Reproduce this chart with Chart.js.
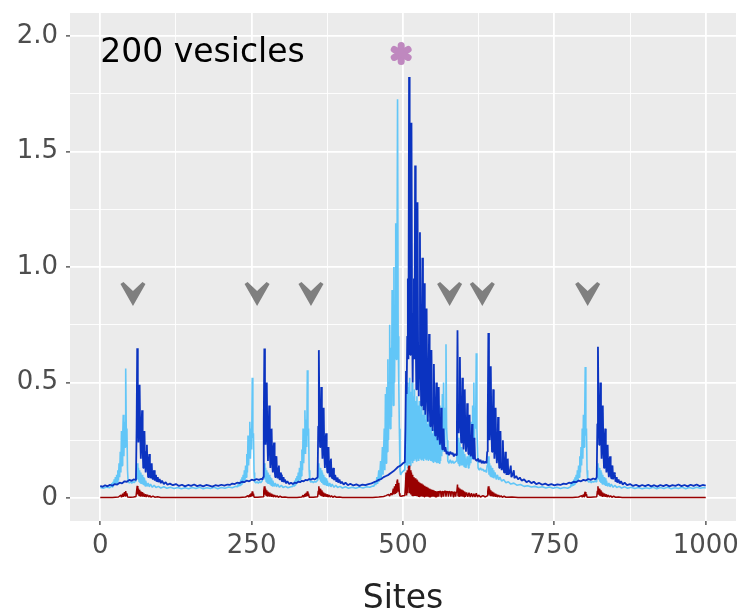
<!DOCTYPE html>
<html>
<head>
<meta charset="utf-8">
<script src="https://cdn.jsdelivr.net/npm/chart.js@4.4.1/dist/chart.umd.min.js"></script>
<style>
  html, body { margin: 0; padding: 0; background: #ffffff; }
  canvas { display: block; }
</style>
</head>
<body>
<canvas id="sitechart" width="749" height="616"></canvas>
<script>
// [site, value] pairs
var lightBlue = [
  [0,0.045],[5,0.042],[10,0.047],[15,0.044],
  [18,0.05],[19,0.065],[20,0.048],[21,0.07],[22,0.055],[23,0.08],[24,0.058],[25,0.09],[26,0.062],[27,0.1],[28,0.068],[29,0.12],[30,0.075],[31,0.15],[32,0.09],[33,0.2],[34,0.11],[35,0.29],[36,0.14],[37,0.26],[38,0.36],[39,0.18],[40,0.33],[41,0.22],[42,0.56],[43,0.28],[44,0.3],[45,0.12],[46,0.07],[48,0.065],[50,0.07],[52,0.064],[54,0.07],[56,0.066],[58,0.072],[59,0.09],
  [60,0.12],[61,0.15],[62,0.08],[63,0.13],[64,0.07],[65,0.12],[66,0.065],[67,0.11],[68,0.06],[69,0.1],[70,0.058],[71,0.09],[72,0.055],[73,0.085],[74,0.052],[75,0.075],[77,0.05],[79,0.065],[81,0.048],[83,0.06],[86,0.046],[89,0.055],[92,0.045],[96,0.05],[100,0.043],[105,0.048],[110,0.042],
  [116,0.046],[122,0.041],[128,0.045],[134,0.04],[140,0.044],[146,0.04],[152,0.045],[158,0.041],[164,0.046],[170,0.04],[176,0.044],[182,0.041],[188,0.046],[194,0.04],[200,0.045],[206,0.042],[212,0.047],[218,0.044],[224,0.05],
  [227,0.048],[228,0.062],[229,0.05],[230,0.07],[231,0.054],[232,0.08],[233,0.058],[234,0.09],[235,0.062],[236,0.1],[237,0.068],[238,0.12],[239,0.075],[240,0.14],[241,0.09],[242,0.19],[243,0.11],[244,0.27],[245,0.14],[246,0.25],[247,0.33],[248,0.17],[249,0.3],[250,0.21],[251,0.52],[252,0.26],[253,0.28],[254,0.11],[255,0.07],[257,0.065],[259,0.07],[261,0.064],[263,0.07],[265,0.066],[267,0.072],[269,0.09],
  [270,0.12],[271,0.15],[272,0.08],[273,0.13],[274,0.07],[275,0.12],[276,0.065],[277,0.11],[278,0.06],[279,0.1],[280,0.058],[281,0.09],[282,0.055],[283,0.085],[284,0.052],[285,0.075],[287,0.05],[289,0.065],[291,0.048],[293,0.06],[296,0.046],[299,0.055],[302,0.045],[306,0.05],[310,0.044],[315,0.048],
  [318,0.05],[319,0.065],[320,0.052],[321,0.075],[322,0.056],[323,0.085],[324,0.06],[325,0.095],[326,0.065],[327,0.11],[328,0.07],[329,0.13],[330,0.08],[331,0.16],[332,0.095],[333,0.21],[334,0.12],[335,0.3],[336,0.15],[337,0.27],[338,0.38],[339,0.19],[340,0.34],[341,0.22],[342,0.553],[343,0.27],[344,0.3],[345,0.12],[346,0.075],[348,0.068],[350,0.072],[352,0.066],[354,0.072],[356,0.068],[358,0.074],[359,0.09],
  [360,0.12],[361,0.15],[362,0.08],[363,0.13],[364,0.07],[365,0.12],[366,0.065],[367,0.11],[368,0.06],[369,0.1],[370,0.058],[371,0.09],[372,0.055],[373,0.085],[374,0.052],[375,0.075],[377,0.05],[379,0.065],[381,0.048],[383,0.06],[386,0.046],[389,0.055],[392,0.045],[396,0.05],[400,0.043],[405,0.048],[410,0.042],
  [416,0.046],[422,0.042],[428,0.047],[434,0.043],[440,0.048],[445,0.046],[450,0.052],
  [452,0.05],[454,0.07],[455,0.055],[457,0.09],[458,0.06],[460,0.12],[461,0.07],[463,0.16],[464,0.08],[466,0.22],[467,0.1],[469,0.3],[470,0.12],[471,0.45],[472,0.15],[473,0.48],[474,0.2],[475,0.6],[476,0.25],[477,0.5],[478,0.75],[479,0.3],[480,0.65],[481,0.35],[482,0.9],[483,0.77],[484,0.4],[485,1.0],[486,0.5],[487,0.8],[488,1.19],[489,0.6],[490,0.9],[491,1.727],[492,0.7],[493,0.5],[494,0.3],[495,0.12],[496,0.1],[498,0.11],[500,0.115],[502,0.12],[503,0.13],
  [504,0.2],[505,0.45],[506,0.14],[507,0.5],[508,0.13],[509,0.48],[510,0.15],[511,0.52],[512,0.14],[513,0.46],[514,0.16],[515,0.5],[516,0.15],[517,0.44],[518,0.16],[519,0.47],[520,0.17],[521,0.42],[522,0.16],[523,0.44],[524,0.17],[525,0.4],[526,0.16],[527,0.42],[528,0.17],[529,0.38],[530,0.165],[531,0.4],[532,0.17],[533,0.36],[534,0.16],[535,0.38],[536,0.17],[537,0.34],[538,0.165],[539,0.36],[540,0.17],[541,0.32],[542,0.16],[543,0.34],[544,0.165],[545,0.3],[546,0.16],[547,0.32],[548,0.16],[549,0.28],[550,0.155],[551,0.3],[552,0.16],[553,0.27],[554,0.155],[555,0.3],[556,0.15],[557,0.35],[558,0.155],[559,0.3],[560,0.15],[561,0.4],[562,0.16],[563,0.35],[564,0.18],[565,0.45],[566,0.2],[567,0.5],[568,0.22],[569,0.39],[570,0.3],[571,0.665],[572,0.3],[573,0.25],[574,0.16],[576,0.15],[578,0.165],[580,0.15],[582,0.16],[584,0.15],[586,0.155],[588,0.16],
  [589,0.2],[590,0.28],[591,0.15],[592,0.26],[593,0.14],[594,0.24],[595,0.145],[596,0.22],[597,0.14],[598,0.21],[599,0.14],[600,0.2],[601,0.135],[602,0.19],[604,0.13],[606,0.18],[608,0.13],[609,0.2],[610,0.14],[611,0.26],[612,0.15],[613,0.33],[614,0.17],[615,0.4],[616,0.2],[617,0.5],[618,0.25],[619,0.39],[620,0.3],[621,0.626],[622,0.3],[623,0.22],[624,0.13],[626,0.12],[628,0.13],[630,0.12],[632,0.125],[634,0.115],[636,0.12],[638,0.11],[639,0.14],
  [640,0.15],[641,0.18],[642,0.1],[643,0.15],[644,0.095],[645,0.14],[646,0.09],[647,0.13],[648,0.088],[649,0.12],[650,0.085],[652,0.11],[654,0.08],[656,0.1],[658,0.078],[660,0.09],[663,0.072],[666,0.08],[670,0.066],[674,0.07],[678,0.06],[683,0.064],[688,0.055],[694,0.058],[700,0.05],[706,0.053],[712,0.047],[718,0.05],[724,0.045],[730,0.048],[736,0.043],[742,0.047],[748,0.042],[754,0.046],[760,0.041],[766,0.045],[772,0.042],[776,0.047],
  [777,0.05],[778,0.064],[779,0.05],[780,0.072],[781,0.055],[782,0.08],[783,0.058],[784,0.09],[785,0.062],[786,0.1],[787,0.068],[788,0.12],[789,0.075],[790,0.14],[791,0.09],[792,0.18],[793,0.11],[794,0.22],[795,0.14],[796,0.3],[797,0.17],[798,0.36],[799,0.22],[800,0.33],[801,0.567],[802,0.27],[803,0.3],[804,0.12],[805,0.075],[807,0.068],[809,0.072],[811,0.066],[813,0.072],[815,0.068],[817,0.074],[819,0.07],[820,0.09],
  [821,0.12],[822,0.15],[823,0.08],[824,0.13],[825,0.07],[826,0.12],[827,0.065],[828,0.11],[829,0.06],[830,0.1],[831,0.058],[832,0.09],[833,0.055],[834,0.085],[835,0.052],[836,0.075],[838,0.05],[840,0.065],[842,0.048],[844,0.06],[847,0.046],[850,0.055],[853,0.045],[857,0.05],[861,0.043],[866,0.048],[871,0.042],
  [877,0.046],[883,0.041],[889,0.045],[895,0.04],[901,0.044],[907,0.041],[913,0.046],[919,0.04],[925,0.045],[931,0.041],[937,0.046],[943,0.04],[949,0.044],[955,0.041],[961,0.046],[967,0.04],[973,0.045],[979,0.041],[985,0.046],[991,0.042],[996,0.045],[1000,0.043]
];

var darkBlue = [
  [0,0.052],[4,0.048],[8,0.055],[12,0.05],[16,0.057],[20,0.053],[24,0.06],[28,0.058],[32,0.066],[36,0.063],[40,0.072],[44,0.07],[48,0.078],[52,0.074],[55,0.08],[58,0.078],[59,0.09],
  [60,0.3],[61,0.648],[62,0.37],[63,0.24],[64,0.33],[65,0.49],[66,0.27],[67,0.17],[68,0.3],[69,0.38],[70,0.21],[71,0.13],[72,0.25],[73,0.29],[74,0.16],[75,0.11],[76,0.2],[77,0.23],[78,0.13],[79,0.09],[80,0.16],[81,0.19],[82,0.1],[83,0.085],[84,0.13],[85,0.15],[86,0.085],[87,0.08],[88,0.11],[89,0.12],[90,0.075],[91,0.09],[92,0.1],[93,0.07],[95,0.09],[96,0.068],[98,0.082],[100,0.064],[102,0.075],[105,0.06],[108,0.068],[111,0.057],[115,0.062],
  [120,0.055],[125,0.06],[130,0.052],[135,0.057],[140,0.05],[145,0.056],[150,0.052],[155,0.058],[160,0.051],[165,0.055],[170,0.05],[175,0.056],[180,0.053],[185,0.049],[190,0.055],[195,0.052],[200,0.057],[205,0.053],[210,0.058],[214,0.056],[218,0.062],[222,0.06],[226,0.066],[230,0.064],[234,0.07],[238,0.068],[242,0.075],[246,0.072],[250,0.079],[254,0.076],[258,0.082],[262,0.078],[266,0.083],[268,0.08],[269,0.09],
  [270,0.32],[271,0.647],[272,0.36],[273,0.23],[274,0.31],[275,0.5],[276,0.26],[277,0.16],[278,0.29],[279,0.4],[280,0.2],[281,0.13],[282,0.26],[283,0.3],[284,0.15],[285,0.11],[286,0.21],[287,0.24],[288,0.12],[289,0.09],[290,0.17],[291,0.18],[292,0.1],[293,0.085],[294,0.13],[295,0.14],[296,0.08],[297,0.08],[298,0.11],[299,0.1],[300,0.07],[302,0.09],[303,0.068],[305,0.08],[307,0.063],[309,0.072],[312,0.06],[315,0.066],[318,0.06],[321,0.066],[324,0.064],[327,0.07],[330,0.068],[333,0.074],[336,0.072],[339,0.078],[342,0.076],[345,0.082],[348,0.079],[351,0.084],[354,0.08],[357,0.085],[359,0.09],
  [360,0.31],[361,0.64],[362,0.35],[363,0.22],[364,0.3],[365,0.48],[366,0.25],[367,0.17],[368,0.3],[369,0.39],[370,0.19],[371,0.13],[372,0.25],[373,0.28],[374,0.15],[375,0.11],[376,0.2],[377,0.22],[378,0.12],[379,0.09],[380,0.16],[381,0.17],[382,0.095],[383,0.085],[384,0.12],[385,0.13],[386,0.08],[387,0.078],[388,0.1],[389,0.1],[390,0.07],[392,0.088],[393,0.066],[395,0.08],[397,0.062],[399,0.07],[402,0.058],[405,0.066],[409,0.055],[413,0.061],
  [418,0.054],[423,0.059],[428,0.052],[433,0.058],[438,0.055],[443,0.06],[448,0.063],[452,0.068],[456,0.072],[460,0.078],[464,0.082],[468,0.09],[472,0.095],[476,0.1],[480,0.108],[484,0.115],[488,0.125],[492,0.135],[496,0.14],[500,0.15],[503,0.155],
  [504,0.3],[505,0.55],[506,0.45],[507,0.7],[508,0.95],[509,0.6],[510,1.823],[511,0.9],[512,0.62],[513,0.85],[514,1.625],[515,0.75],[516,0.5],[517,0.8],[518,0.95],[519,0.6],[520,1.44],[521,0.7],[522,0.47],[523,0.72],[524,1.28],[525,0.62],[526,0.44],[527,0.66],[528,1.15],[529,0.58],[530,0.4],[531,0.6],[532,1.04],[533,0.55],[534,0.38],[535,0.93],[536,0.52],[537,0.36],[538,0.5],[539,0.82],[540,0.47],[541,0.33],[542,0.45],[543,0.71],[544,0.42],[545,0.31],[546,0.4],[547,0.64],[548,0.38],[549,0.29],[550,0.37],[551,0.58],[552,0.35],[553,0.27],[554,0.33],[555,0.5],[556,0.32],[557,0.25],[558,0.3],[559,0.48],[560,0.28],[561,0.23],[562,0.27],[563,0.39],[564,0.25],[565,0.21],[566,0.24],[567,0.3],[568,0.22],[569,0.2],[570,0.22],[572,0.19],[574,0.2],[576,0.185],[578,0.2],[580,0.19],[582,0.195],[584,0.18],[586,0.19],[588,0.185],
  [589,0.3],[590,0.726],[591,0.4],[592,0.28],[593,0.36],[594,0.61],[595,0.33],[596,0.24],[597,0.32],[598,0.52],[599,0.28],[600,0.21],[601,0.29],[602,0.47],[603,0.26],[604,0.2],[605,0.26],[606,0.41],[607,0.24],[608,0.19],[609,0.23],[610,0.36],[611,0.21],[612,0.18],[613,0.2],[614,0.32],[615,0.19],[616,0.17],[617,0.19],[618,0.26],[619,0.17],[620,0.165],[622,0.16],[624,0.17],[626,0.155],[628,0.165],[630,0.15],[632,0.16],[634,0.15],[636,0.158],[638,0.15],[639,0.2],
  [640,0.35],[641,0.714],[642,0.38],[643,0.25],[644,0.33],[645,0.57],[646,0.3],[647,0.2],[648,0.28],[649,0.47],[650,0.25],[651,0.17],[652,0.24],[653,0.39],[654,0.21],[655,0.15],[656,0.2],[657,0.35],[658,0.18],[659,0.13],[660,0.17],[661,0.29],[662,0.15],[663,0.12],[664,0.15],[665,0.25],[666,0.13],[667,0.11],[668,0.13],[669,0.2],[670,0.12],[671,0.1],[672,0.12],[673,0.17],[674,0.1],[676,0.11],[678,0.14],[679,0.09],[681,0.1],[683,0.12],[684,0.085],[687,0.095],[690,0.08],[693,0.088],[696,0.075],[700,0.08],[704,0.068],[708,0.074],[712,0.064],[716,0.07],[720,0.06],[725,0.065],[730,0.057],[735,0.062],[740,0.055],[745,0.06],[750,0.054],[755,0.059],[760,0.056],[765,0.062],[770,0.06],[774,0.066],[778,0.064],[782,0.07],[786,0.068],[790,0.075],[794,0.072],[798,0.078],[802,0.075],[806,0.082],[810,0.078],[814,0.084],[818,0.08],[820,0.09],
  [821,0.32],[822,0.655],[823,0.36],[824,0.23],[825,0.31],[826,0.5],[827,0.27],[828,0.17],[829,0.3],[830,0.4],[831,0.2],[832,0.13],[833,0.25],[834,0.3],[835,0.16],[836,0.11],[837,0.2],[838,0.23],[839,0.12],[840,0.09],[841,0.16],[842,0.18],[843,0.1],[844,0.085],[845,0.13],[846,0.14],[847,0.08],[848,0.08],[849,0.11],[850,0.1],[851,0.07],[853,0.09],[854,0.066],[856,0.08],[858,0.062],[860,0.072],[863,0.058],[866,0.066],[870,0.055],
  [875,0.06],[880,0.052],[885,0.057],[890,0.05],[895,0.056],[900,0.051],[905,0.057],[910,0.05],[915,0.055],[920,0.049],[925,0.056],[930,0.051],[935,0.057],[940,0.05],[945,0.055],[950,0.052],[955,0.058],[960,0.051],[965,0.056],[970,0.05],[975,0.057],[980,0.052],[985,0.058],[990,0.051],[995,0.056],[1000,0.053]
];

var darkRed = [
  [0,0.002],[20,0.002],[30,0.004],[34,0.012],[35,0.003],[37,0.018],[38,0.005],[40,0.025],[41,0.008],[42,0.03],[43,0.01],[44,0.02],[45,0.004],[50,0.003],[55,0.004],[59,0.006],
  [60,0.03],[61,0.052],[62,0.015],[63,0.04],[64,0.01],[65,0.035],[66,0.008],[67,0.028],[68,0.007],[69,0.025],[70,0.006],[72,0.02],[73,0.005],[75,0.016],[76,0.004],[78,0.013],[80,0.004],[82,0.01],[84,0.003],[87,0.008],[90,0.003],[95,0.005],[100,0.002],
  [230,0.002],[240,0.004],[244,0.01],[245,0.003],[247,0.015],[248,0.004],[249,0.02],[250,0.006],[251,0.028],[252,0.008],[253,0.018],[254,0.003],[260,0.003],[269,0.005],
  [270,0.03],[271,0.05],[272,0.014],[273,0.04],[274,0.01],[275,0.033],[276,0.008],[277,0.027],[278,0.007],[279,0.023],[280,0.006],[282,0.019],[283,0.005],[285,0.015],[286,0.004],[288,0.012],[290,0.004],[292,0.009],[294,0.003],[297,0.007],[300,0.003],[305,0.004],[310,0.002],
  [325,0.002],[333,0.004],[335,0.012],[336,0.003],[338,0.017],[339,0.005],[340,0.022],[341,0.007],[342,0.028],[343,0.009],[344,0.018],[345,0.003],[352,0.003],[359,0.005],
  [360,0.03],[361,0.05],[362,0.014],[363,0.04],[364,0.01],[365,0.033],[366,0.008],[367,0.027],[368,0.007],[369,0.023],[370,0.006],[372,0.019],[373,0.005],[375,0.015],[376,0.004],[378,0.012],[380,0.004],[382,0.009],[384,0.003],[387,0.007],[390,0.003],[395,0.004],[400,0.002],
  [450,0.002],[460,0.004],[468,0.006],[472,0.01],[476,0.015],[478,0.008],[480,0.02],[482,0.012],[484,0.04],[485,0.015],[486,0.05],[487,0.02],[488,0.06],[489,0.025],[490,0.07],[491,0.08],[492,0.03],[493,0.065],[494,0.02],[495,0.008],[497,0.007],[500,0.009],[503,0.01],
  [504,0.05],[505,0.11],[506,0.01],[507,0.12],[508,0.02],[509,0.13],[510,0.14],[511,0.02],[512,0.12],[513,0.015],[514,0.11],[515,0.01],[516,0.1],[517,0.01],[518,0.09],[519,0.008],[520,0.085],[521,0.008],[522,0.08],[523,0.007],[524,0.075],[525,0.007],[526,0.07],[527,0.006],[528,0.066],[529,0.006],[530,0.062],[531,0.006],[532,0.058],[533,0.005],[534,0.055],[535,0.005],[536,0.052],[537,0.005],[538,0.048],[539,0.005],[540,0.045],[541,0.005],[542,0.042],[543,0.005],[544,0.04],[545,0.005],[546,0.037],[547,0.005],[548,0.035],[549,0.005],[550,0.033],[551,0.005],[552,0.03],[553,0.005],[554,0.03],[555,0.005],[556,0.028],[557,0.005],[558,0.03],[559,0.005],[560,0.027],[562,0.029],[563,0.005],[564,0.026],[566,0.028],[567,0.005],[568,0.027],[570,0.03],[571,0.005],[572,0.028],[574,0.027],[575,0.005],[576,0.028],[578,0.026],[579,0.005],[580,0.027],[582,0.025],[583,0.005],[584,0.026],[586,0.024],[587,0.005],[588,0.026],
  [589,0.03],[590,0.058],[591,0.008],[592,0.045],[593,0.007],[594,0.04],[595,0.006],[596,0.036],[597,0.006],[598,0.033],[599,0.005],[600,0.03],[601,0.005],[602,0.027],[603,0.005],[605,0.024],[607,0.005],[609,0.022],[611,0.004],[613,0.02],[615,0.004],[617,0.018],[619,0.004],[621,0.02],[623,0.004],[625,0.012],[628,0.004],[632,0.01],[636,0.004],[639,0.009],
  [640,0.03],[641,0.05],[642,0.014],[643,0.04],[644,0.01],[645,0.033],[646,0.008],[647,0.027],[648,0.007],[649,0.023],[650,0.006],[652,0.019],[653,0.005],[655,0.015],[656,0.004],[658,0.012],[660,0.004],[662,0.009],[664,0.003],[667,0.007],[670,0.003],[680,0.004],[690,0.002],
  [780,0.002],[790,0.004],[795,0.01],[796,0.003],[798,0.015],[799,0.005],[800,0.02],[801,0.026],[802,0.008],[803,0.016],[804,0.003],[810,0.003],[820,0.005],
  [821,0.03],[822,0.05],[823,0.014],[824,0.04],[825,0.01],[826,0.033],[827,0.008],[828,0.027],[829,0.007],[830,0.023],[831,0.006],[833,0.019],[834,0.005],[836,0.015],[837,0.004],[839,0.012],[841,0.004],[843,0.009],[845,0.003],[848,0.007],[851,0.003],[856,0.004],[862,0.002],[1000,0.002]
];

var xTicks = [0, 125, 250, 375, 500, 625, 750, 875, 1000];
var yTicks = [0, 0.25, 0.5, 0.75, 1, 1.25, 1.5, 1.75, 2];
var arrowSites = [54, 259, 348, 577, 631, 805];
var arrowLevel = 0.935;
var starSite = 497;
var starLevel = 1.925;
var panelNote = '200 vesicles';

function toPoints(pairs) {
  return pairs.slice().sort(function (a, b) { return a[0] - b[0]; })
    .map(function (p) { return { x: p[0], y: p[1] }; });
}
function majorX(v) { return v % 250 === 0; }
function majorY(v) { return Math.abs(v * 2 - Math.round(v * 2)) < 1e-9; }

// grey ggplot panel behind everything
var panelBg = {
  id: 'panelBg',
  beforeDraw: function (chart) {
    var a = chart.chartArea, ctx = chart.ctx;
    ctx.save();
    ctx.fillStyle = '#ebebeb';
    ctx.fillRect(a.left, a.top, a.right - a.left, a.bottom - a.top);
    ctx.restore();
  }
};

// arrowheads, asterisk and the panel note
var marks = {
  id: 'marks',
  afterDatasetsDraw: function (chart) {
    var ctx = chart.ctx, xs = chart.scales.x, ys = chart.scales.y;
    ctx.save();
    ctx.fillStyle = '#7f7f7f';
    arrowSites.forEach(function (s) {
      var cx = xs.getPixelForValue(s), top = ys.getPixelForValue(arrowLevel);
      ctx.beginPath();
      ctx.moveTo(cx - 12.5, top + 2);
      ctx.lineTo(cx - 9.5, top);
      ctx.lineTo(cx, top + 9);
      ctx.lineTo(cx + 9.5, top);
      ctx.lineTo(cx + 12.5, top + 2);
      ctx.lineTo(cx, top + 24);
      ctx.closePath();
      ctx.fill();
    });

    var sx = xs.getPixelForValue(starSite), sy = ys.getPixelForValue(starLevel);
    ctx.strokeStyle = '#bf88bf';
    ctx.lineWidth = 7;
    ctx.lineCap = 'round';
    for (var k = 0; k < 3; k++) {
      var ang = Math.PI / 2 + k * Math.PI / 3;
      ctx.beginPath();
      ctx.moveTo(sx - 8 * Math.cos(ang), sy - 8 * Math.sin(ang));
      ctx.lineTo(sx + 8 * Math.cos(ang), sy + 8 * Math.sin(ang));
      ctx.stroke();
    }

    ctx.fillStyle = '#000000';
    ctx.font = '33px "DejaVu Sans"';
    ctx.textAlign = 'left';
    ctx.textBaseline = 'alphabetic';
    ctx.fillText(panelNote, xs.getPixelForValue(0), ys.getPixelForValue(1.887));
    ctx.restore();
  }
};

var tickFont = { family: 'DejaVu Sans', size: 26 };

var config = {
  type: 'line',
  data: {
    datasets: [
      { label: 'light', data: toPoints(lightBlue), borderColor: '#62c6f7', borderWidth: 1.6, order: 2 },
      { label: 'dark', data: toPoints(darkBlue), borderColor: '#0b33c0', borderWidth: 1.8, order: 1 },
      { label: 'red', data: toPoints(darkRed), borderColor: '#990000', borderWidth: 1.5, order: 0 }
    ]
  },
  options: {
    responsive: false,
    animation: false,
    events: [],
    layout: { padding: { top: 13, right: 13, left: 0, bottom: 0 } },
    elements: {
      point: { radius: 0 },
      line: { tension: 0, borderJoinStyle: 'bevel', fill: false }
    },
    plugins: { legend: { display: false }, tooltip: { enabled: false } },
    scales: {
      x: {
        type: 'linear',
        min: -50,
        max: 1050,
        afterBuildTicks: function (s) { s.ticks = xTicks.map(function (v) { return { value: v }; }); },
        afterFit: function (s) { s.height = 95; s.paddingLeft = 0; s.paddingRight = 0; },
        border: { display: false },
        grid: {
          color: '#ffffff',
          lineWidth: function (c) { return c.tick && majorX(c.tick.value) ? 1.8 : 0.9; },
          tickColor: function (c) { return c.tick && majorX(c.tick.value) ? '#333333' : 'rgba(0,0,0,0)'; },
          tickLength: 4,
          tickWidth: 1.2
        },
        ticks: {
          autoSkip: false,
          maxRotation: 0,
          padding: 6,
          color: '#4d4d4d',
          font: tickFont,
          callback: function (v) { return majorX(v) ? String(v) : ''; }
        },
        title: {
          display: true,
          text: 'Sites',
          color: '#222222',
          font: { family: 'DejaVu Sans', size: 33, lineHeight: 1 },
          padding: 0
        }
      },
      y: {
        type: 'linear',
        min: -0.1,
        max: 2.1,
        afterBuildTicks: function (s) { s.ticks = yTicks.map(function (v) { return { value: v }; }); },
        afterFit: function (s) { s.width = 70; s.paddingTop = 0; s.paddingBottom = 0; },
        border: { display: false },
        grid: {
          color: '#ffffff',
          lineWidth: function (c) { return c.tick && majorY(c.tick.value) ? 1.8 : 0.9; },
          tickColor: function (c) { return c.tick && majorY(c.tick.value) ? '#333333' : 'rgba(0,0,0,0)'; },
          tickLength: 4,
          tickWidth: 1.2
        },
        ticks: {
          padding: 8,
          color: '#4d4d4d',
          font: tickFont,
          callback: function (v) {
            if (!majorY(v)) return '';
            return v === 0 ? '0' : v.toFixed(1);
          }
        }
      }
    }
  },
  plugins: [panelBg, marks]
};

var sitechart = new Chart(document.getElementById('sitechart'), config);
</script>
</body>
</html>
